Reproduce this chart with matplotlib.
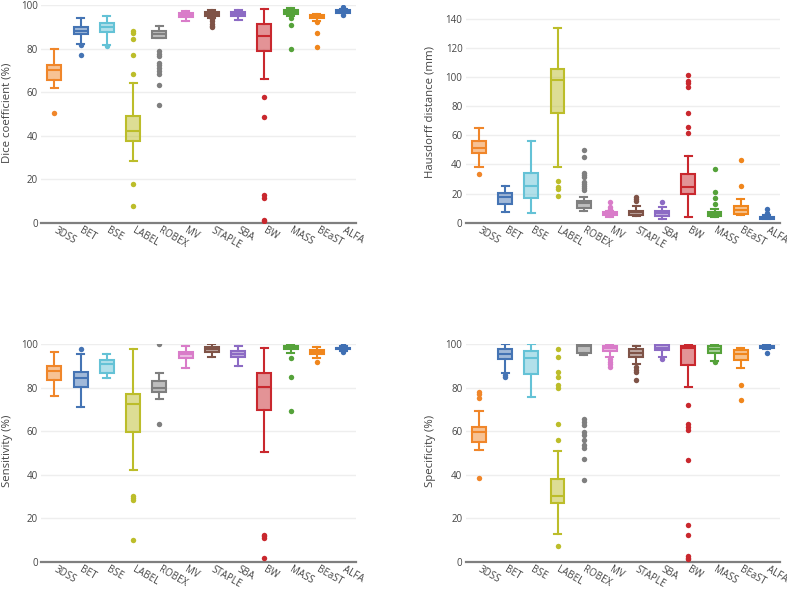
import matplotlib
matplotlib.use("Agg")
import matplotlib.pyplot as plt
from matplotlib.colors import to_rgba

methods = ["3DSS", "BET", "BSE", "LABEL", "ROBEX", "MV", "STAPLE", "SBA", "BW", "MASS", "BEaST", "ALFA"]
colors = ["#f0862a", "#4574b4", "#64c2d6", "#bcbd2a", "#7f7f7f", "#d97cc9",
          "#7f5347", "#8c6bc4", "#c9282e", "#55a23a", "#f0861c", "#3f6fb3"]

# ---- Dice coefficient (%) ----
dice_whi = [79.9, 94.0, 94.8, 64.2, 90.4, 97.2, 97.5, 97.8, 98.1, 98.7, 96.0, 98.2]
dice_q3 = [72.6, 90.0, 91.7, 49.0, 88.0, 96.1, 96.6, 96.9, 91.3, 97.5, 95.4, 97.5]
dice_med = [70.3, 88.2, 90.0, 42.2, 86.7, 95.4, 95.8, 95.8, 85.7, 96.7, 94.8, 96.9]
dice_q1 = [65.6, 86.6, 87.5, 37.7, 85.0, 94.5, 94.8, 94.8, 79.0, 95.7, 93.9, 96.4]
dice_wlo = [62.1, 82.2, 81.7, 28.4, 85.0, 92.5, 94.2, 92.9, 65.8, 94.8, 92.6, 96.4]
dice_out = [
    [50.6],
    [81.7, 77.0],
    [81.2],
    [88.0, 87.0, 84.6, 77.1, 68.3, 17.6, 7.9],
    [78.7, 77.6, 76.7, 73.3, 72.6, 71.0, 69.6, 68.3, 63.3, 53.9],
    [],
    [93.5, 92.5, 91.5, 90.5, 89.8],
    [],
    [57.9, 48.6, 12.6, 11.5, 1.2, 0.8],
    [93.9, 90.7, 79.6],
    [92.0, 87.0, 80.9],
    [99.0, 95.6],
]

# ---- Hausdorff distance (mm) ----
hd_whi = [64.8, 25.2, 56.1, 133.6, 17.9, 8.2, 11.7, 11.0, 45.8, 9.2, 16.0, 5.3]
hd_q3 = [56.4, 20.6, 34.4, 105.9, 15.1, 7.1, 8.2, 8.0, 33.7, 7.1, 11.5, 3.7]
hd_med = [51.3, 17.9, 25.2, 97.8, 13.3, 6.2, 7.1, 6.4, 24.5, 6.0, 8.7, 3.2]
hd_q1 = [47.7, 12.8, 17.0, 75.2, 9.9, 5.0, 5.5, 4.6, 19.7, 4.6, 6.0, 2.7]
hd_wlo = [38.5, 7.3, 6.4, 38.5, 7.8, 4.1, 4.6, 2.8, 4.1, 4.1, 5.0, 2.3]
hd_out = [
    [33.5],
    [],
    [],
    [28.6, 24.3, 22.9, 18.1],
    [50.2, 44.9, 34.4, 33.0, 31.6, 27.7, 26.4, 25.0, 23.6, 22.5],
    [14.4, 10.5, 9.2],
    [17.9, 16.5, 15.1],
    [14.4],
    [101.5, 97.4, 95.8, 93.0, 75.2, 65.5, 61.4],
    [37.1, 20.9, 17.0, 12.8],
    [43.1, 25.2],
    [9.2, 6.4],
]

# ---- Sensitivity (%) ----
sens_whi = [96.5, 95.3, 95.3, 97.5, 86.5, 98.9, 100.0, 99.2, 98.0, 100.0, 98.8, 99.2]
sens_q3 = [90.0, 87.3, 92.5, 77.2, 83.0, 96.5, 98.6, 96.9, 86.8, 99.2, 97.1, 98.3]
sens_med = [87.7, 84.5, 90.7, 72.4, 79.9, 95.3, 97.7, 95.4, 80.1, 98.5, 96.2, 98.0]
sens_q1 = [83.3, 80.4, 86.7, 59.7, 78.1, 93.4, 96.5, 93.9, 69.8, 97.5, 95.3, 97.7]
sens_wlo = [76.3, 70.9, 84.2, 42.1, 74.9, 89.1, 93.9, 90.0, 50.2, 96.0, 93.7, 96.9]
sens_out = [
    [],
    [97.5],
    [],
    [30.3, 29.4, 28.5, 10.0],
    [100.0, 63.4],
    [],
    [],
    [],
    [12.3, 11.6, 10.7, 1.5],
    [93.6, 85.0, 69.4],
    [91.6],
    [99.8, 96.5],
]

# ---- Specificity (%) ----
spec_whi = [69.2, 99.8, 100.0, 51.0, 100.0, 100.0, 98.9, 100.0, 100.0, 100.0, 98.3, 99.8]
spec_q3 = [62.0, 97.5, 96.9, 38.0, 100.0, 99.2, 97.5, 99.5, 98.9, 98.9, 97.2, 98.9]
spec_med = [59.4, 95.3, 93.4, 30.0, 99.2, 98.0, 95.7, 98.3, 98.0, 97.7, 95.3, 98.5]
spec_q1 = [55.1, 93.0, 86.4, 26.8, 95.7, 96.9, 94.2, 97.2, 90.4, 96.0, 92.6, 98.0]
spec_wlo = [51.3, 86.5, 75.8, 12.7, 94.8, 94.2, 90.7, 94.2, 80.1, 92.2, 88.8, 97.7]
spec_out = [
    [78.1, 77.2, 75.3, 38.6],
    [85.8, 84.7],
    [],
    [97.5, 93.9, 87.3, 84.8, 81.3, 79.9, 63.1, 56.0, 7.2],
    [65.7, 64.3, 62.8, 59.4, 58.1, 55.9, 53.6, 52.1, 47.0, 37.5],
    [93.1, 91.9, 90.7, 89.3],
    [89.3, 88.2, 87.0, 83.3],
    [93.1],
    [72.0, 63.1, 62.0, 60.6, 46.8, 16.7, 12.3, 2.6, 1.8, 1.2],
    [91.6],
    [81.3, 74.1],
    [100.0, 96.0],
]

FONT = "Open Sans"
TICK_COLOR = "#444444"
TICK_SIZE = 7.0


def draw(ax, whi, q3, med, q1, wlo, outs, ymax, yticks):
    stats = []
    for i in range(len(methods)):
        stats.append(dict(med=med[i], q1=q1[i], q3=q3[i], whislo=wlo[i],
                          whishi=whi[i], fliers=outs[i], label=methods[i]))
    pos = list(range(len(methods)))
    art = ax.bxp(stats, positions=pos, widths=0.53, capwidths=0.27,
                 patch_artist=True, showfliers=True, manage_ticks=False)
    for i, c in enumerate(colors):
        b = art["boxes"][i]
        b.set_facecolor(to_rgba(c, 0.5))
        b.set_edgecolor(c)
        b.set_linewidth(1.5)
        art["medians"][i].set_color(c)
        art["medians"][i].set_linewidth(1.5)
        for k in (2 * i, 2 * i + 1):
            art["whiskers"][k].set_color(c)
            art["whiskers"][k].set_linewidth(1.5)
            art["caps"][k].set_color(c)
            art["caps"][k].set_linewidth(1.5)
        f = art["fliers"][i]
        f.set_marker("o")
        f.set_markerfacecolor(c)
        f.set_markeredgecolor("none")
        f.set_markersize(3.9)
    ax.set_xlim(-0.5, len(methods) - 0.5)
    ax.set_ylim(0, ymax)
    ax.set_yticks(yticks)
    ax.set_yticklabels([str(t) for t in yticks], fontsize=TICK_SIZE, color=TICK_COLOR, family=FONT)
    ax.set_xticks(pos)
    ax.set_xticklabels(methods, rotation=-30, ha="left", va="center",
                       rotation_mode="anchor", fontsize=TICK_SIZE, color=TICK_COLOR, family=FONT)
    ax.tick_params(axis="both", length=0)
    ax.tick_params(axis="y", pad=2.5)
    ax.tick_params(axis="x", pad=5.0)
    for t in yticks:
        if 0 < t:
            ax.axhline(t, color="#eeeeee", lw=1.0, zorder=0)
    ax.axhline(0, color="#7f7f7f", lw=1.6, zorder=1, clip_on=False)
    for s in ax.spines.values():
        s.set_visible(False)


fig = plt.figure(figsize=(7.87, 5.90), dpi=100)
W, H = 787.0, 590.0


def make_ax(x0, x1, y0, ytop):
    return fig.add_axes([x0 / W, (H - y0) / H, (x1 - x0) / W, (y0 - ytop) / H])


ax1 = make_ax(41.2, 356.2, 222.7, 5.0)
ax2 = make_ax(465.9, 780.0, 222.7, 17.5)
ax3 = make_ax(41.2, 356.2, 561.7, 344.0)
ax4 = make_ax(465.9, 780.0, 561.7, 344.0)

pct_ticks = [0, 20, 40, 60, 80, 100]
draw(ax1, dice_whi, dice_q3, dice_med, dice_q1, dice_wlo, dice_out, 100, pct_ticks)
draw(ax2, hd_whi, hd_q3, hd_med, hd_q1, hd_wlo, hd_out, 141, [0, 20, 40, 60, 80, 100, 120, 140])
draw(ax3, sens_whi, sens_q3, sens_med, sens_q1, sens_wlo, sens_out, 100, pct_ticks)
draw(ax4, spec_whi, spec_q3, spec_med, spec_q1, spec_wlo, spec_out, 100, pct_ticks)

lab_kw = dict(rotation=90, ha="center", va="center", fontsize=8.2, color=TICK_COLOR, family=FONT)
fig.text(7.5 / W, 1 - 113 / H, "Dice coefficient (%)", **lab_kw)
fig.text(430 / W, 1 - 112.5 / H, "Hausdorff distance (mm)", **lab_kw)
fig.text(7.5 / W, 1 - 451 / H, "Sensitivity (%)", **lab_kw)
fig.text(430 / W, 1 - 451 / H, "Specificity (%)", **lab_kw)

fig.savefig("out.png", dpi=100, facecolor="white")
